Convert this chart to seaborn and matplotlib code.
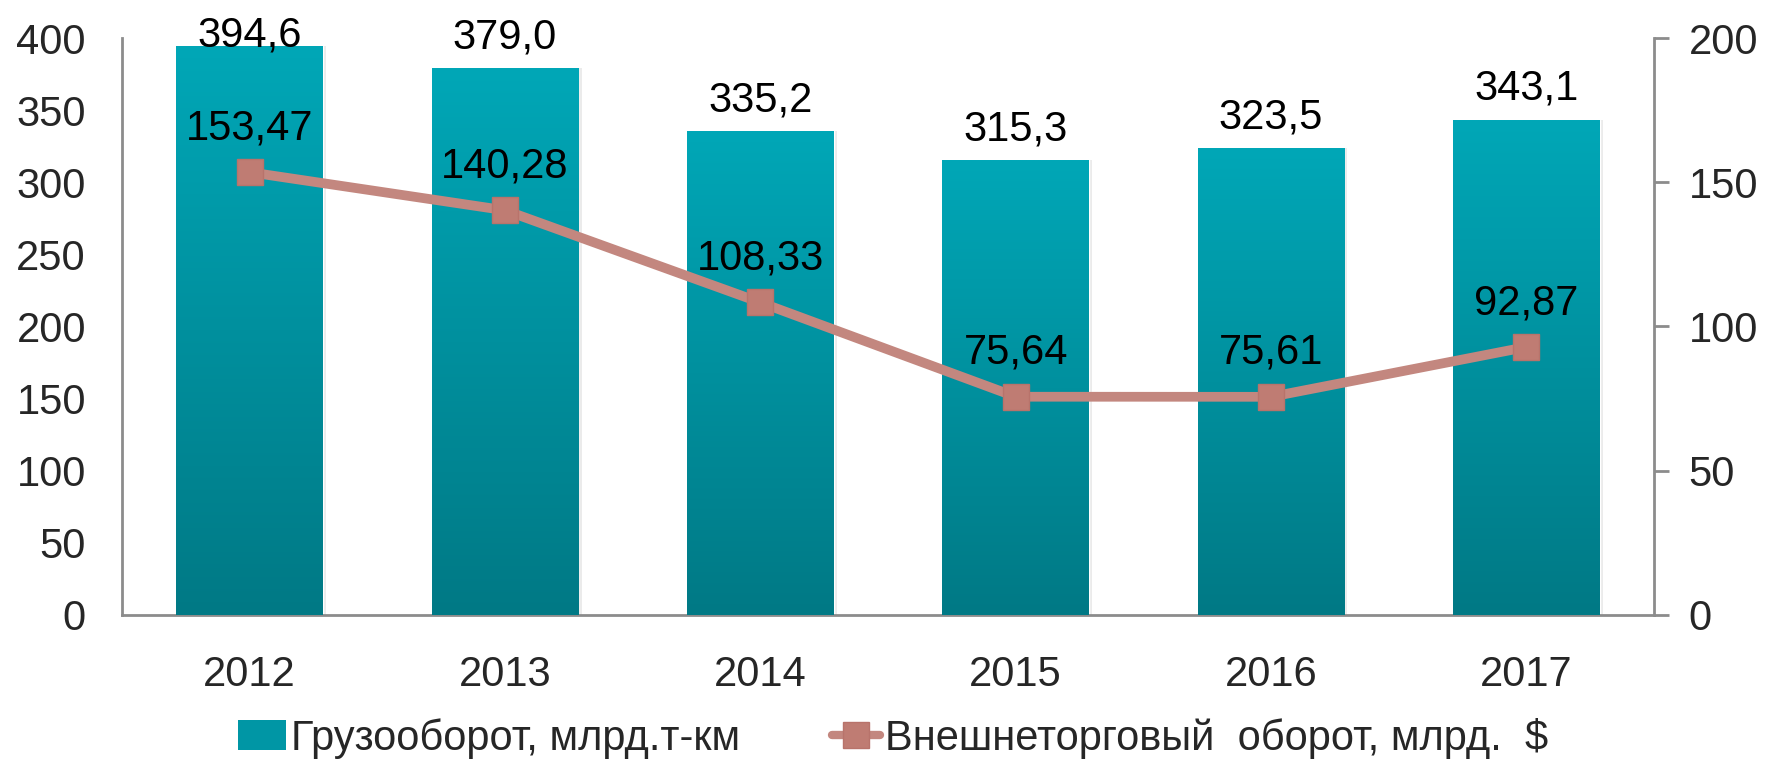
import numpy as np
import pandas as pd
import matplotlib
matplotlib.use("Agg")
import matplotlib.pyplot as plt
import seaborn as sns
from matplotlib.lines import Line2D
from matplotlib.patches import Patch
from matplotlib.colors import LinearSegmentedColormap

sns.set_theme(style='white')
plt.rcParams['font.family'] = ['Liberation Sans', 'DejaVu Sans']

# data
years = ['2012', '2013', '2014', '2015', '2016', '2017']
cargo = [394.6, 379.0, 335.2, 315.3, 323.5, 343.1]       # Грузооборот, млрд.т-км
trade = [153.47, 140.28, 108.33, 75.64, 75.61, 92.87]   # Внешнеторговый оборот, млрд. $

bar_top = '#00A7B7'
bar_bottom = '#007985'
line_col = '#C3877F'
spine_col = '#8C8C8C'
fs = 30

df = pd.DataFrame({'year': years, 'cargo': cargo, 'trade': trade})

fig = plt.figure(figsize=(17.69, 7.61), dpi=100)
ax = fig.add_axes([0.069, 0.192, 0.866, 0.758])

sns.barplot(data=df, x='year', y='cargo', color=bar_top, width=0.575,
            saturation=1, ax=ax, zorder=2)
ax.set_ylim(0, 400)
ax.set_xlim(-0.5, 5.5)

# vertical gradient on the bars
cmap = LinearSegmentedColormap.from_list('teal', [bar_bottom, bar_top])
grad = np.linspace(0, 1, 256).reshape(-1, 1)
for p in ax.patches:
    x0, y0 = p.get_x(), p.get_y()
    w, h = p.get_width(), p.get_height()
    # soft shadow on the right
    ax.add_patch(plt.Rectangle((x0 + w, y0), 0.012, h, color='#000000',
                               alpha=0.08, lw=0, zorder=1))
    im = ax.imshow(grad, extent=[x0, x0 + w, y0, y0 + h], origin='lower',
                   cmap=cmap, aspect='auto', zorder=3)
    im.set_clip_path(p)
    # label pushed down when it would leave the plot area (like Excel does)
    ax.text(x0 + w / 2, min(h + 14, 394), f"{h:.1f}".replace('.', ','),
            ha='center', va='baseline', fontsize=fs, color='black', zorder=6)
ax.set_xlim(-0.5, 5.5)
ax.set_ylim(0, 400)

ax.set_xlabel('')
ax.set_ylabel('')
ax.set_yticks(range(0, 401, 50))
ax.tick_params(axis='x', length=0, pad=29, labelsize=fs)
ax.tick_params(axis='y', length=0, pad=26, labelsize=fs)
for s in ['top', 'right']:
    ax.spines[s].set_visible(False)
for s in ['left', 'bottom']:
    ax.spines[s].set_color(spine_col)
    ax.spines[s].set_linewidth(2)

ax2 = ax.twinx()
sns.lineplot(data=df, x='year', y='trade', color=line_col, linewidth=7,
             marker='s', markersize=19, markerfacecolor='#BF7C73',
             markeredgecolor='#B8736B', markeredgewidth=1, ax=ax2,
             sort=False, zorder=5)
ax2.set_ylim(0, 200)
ax2.set_xlim(-0.5, 5.5)
ax2.set_ylabel('')
ax2.set_yticks(range(0, 201, 50))
ax2.tick_params(axis='y', length=11, width=2, color=spine_col, pad=14,
                labelsize=fs, direction='out')
for s in ['top', 'left', 'bottom']:
    ax2.spines[s].set_visible(False)
ax2.spines['right'].set_color(spine_col)
ax2.spines['right'].set_linewidth(2)

for i, v in enumerate(trade):
    ax2.text(i, v + 11.4, f"{v:.2f}".replace('.', ','), ha='center',
             va='baseline', fontsize=fs, color='black', zorder=6)

handles = [Patch(facecolor='#0096A5', edgecolor='none'),
           Line2D([0], [0], color=line_col, lw=6, marker='s', markersize=19,
                  markerfacecolor='#BF7C73', markeredgecolor='#B8736B')]
labels = ['Грузооборот, млрд.т-км', 'Внешнеторговый  оборот, млрд.  $']
fig.legend(handles, labels, loc='lower center', bbox_to_anchor=(0.505, -0.046),
           ncol=2, frameon=False, fontsize=fs, handlelength=1.15,
           handletextpad=0.12, columnspacing=2.2)

fig.savefig('out.png', dpi=100)
